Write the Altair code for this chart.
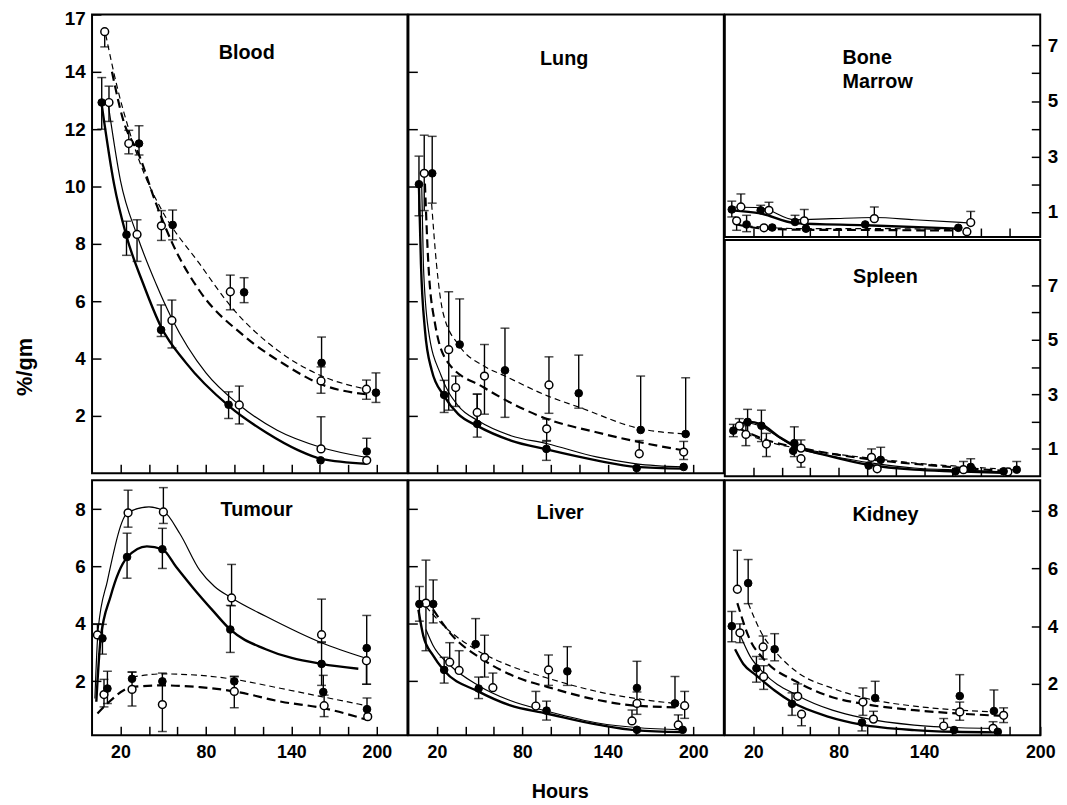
import altair as alt
import pandas as pd

FONT = "Liberation Sans"
XDOM = [0, 221.5]
HOUR_TICKS = [20, 40, 60, 80, 100, 120, 140, 160, 180, 200]

W = 319
H_TOP = 464
H_BM = 225
H_SP = 239
H_BOT = 258

# ---------------- data: (hours, value, err_low, err_high) ----------------
blood_filled = [(6.8, 12.93, 12.0, 13.8), (24.2, 8.32, 7.6, 8.79), (33.0, 11.5, 11.1, 12.12),
                (48.5, 5.0, 4.77, 5.87), (56.6, 8.66, 8.14, 9.18), (95.9, 2.39, 1.91, 2.84),
                (106.8, 6.31, 5.95, 6.82), (161.2, 3.85, 3.85, 4.75), (160.5, 0.45, 0.45, 0.45),
                (192.9, 0.76, 0.76, 1.22), (199.4, 2.81, 2.47, 3.5)]
blood_open = [(8.9, 15.4, 14.87, 15.4), (11.9, 12.93, 12.27, 13.5), (25.8, 11.5, 11.14, 11.96),
              (31.6, 8.33, 7.39, 8.84), (48.7, 8.63, 8.12, 9.16), (56.1, 5.33, 4.37, 6.04),
              (97.1, 6.33, 5.7, 6.91), (103.4, 2.38, 1.72, 3.04), (160.8, 0.85, 0.85, 1.97),
              (160.8, 3.22, 2.79, 3.71), (192.7, 2.93, 2.58, 3.25), (192.9, 0.45, 0.45, 0.45)]
blood_curves = {
    "thick": [(6.8, 12.85), (15.4, 10.1), (24, 8.3), (36, 6.6), (48.5, 5.1), (66, 3.85), (96, 2.35),
              (122, 1.43), (145, 0.8), (161, 0.5), (193, 0.33)],
    "thin": [(11, 13.0), (20, 10.2), (31.6, 8.3), (45, 6.6), (56, 5.4), (80, 3.5), (103, 2.4),
             (130, 1.5), (161, 0.9), (193, 0.55)],
    "thick_dash": [(14, 14.0), (22, 12.3), (33, 11.1), (45, 9.4), (56.6, 8.0), (75, 6.4), (107, 4.78),
                   (135, 3.8), (161, 3.1), (193, 2.75)],
    "thin_dash": [(9.6, 15.3), (18, 13.4), (25.8, 12.0), (37, 10.4), (48.7, 9.2), (75.6, 7.3),
                  (98.7, 5.75), (130, 4.3), (161, 3.4), (193, 2.93)],
}

lung_filled = [(7.4, 10.08, 8.98, 11.06), (16.7, 10.46, 9.42, 11.75), (25.1, 2.73, 2.12, 3.24),
               (36.0, 4.49, 4.49, 6.08), (48.3, 1.72, 1.26, 2.76), (67.8, 3.59, 1.95, 5.06),
               (96.9, 0.85, 0.45, 1.12), (119.6, 2.79, 2.27, 4.12), (163.1, 1.51, 1.51, 3.39),
               (160.3, 0.18, 0.18, 0.18), (194.7, 1.37, 1.37, 3.33), (193.3, 0.22, 0.22, 0.22)]
lung_open = [(11.1, 10.46, 9.16, 11.79), (28.3, 4.31, 2.2, 6.33), (33.2, 2.99, 2.33, 3.39),
             (48.3, 2.12, 1.72, 2.76), (53.4, 3.39, 2.06, 4.49), (98.7, 3.08, 2.09, 4.06),
             (97.1, 1.55, 1.14, 1.89), (162.1, 0.68, 0.68, 1.14), (193.3, 0.74, 0.48, 1.11)]
lung_curves = {
    "thick": [(7.4, 9.97), (8.8, 7.3), (11.6, 5.0), (16.3, 3.6), (25, 2.7), (35, 2.06), (48, 1.66),
              (72, 1.14), (97, 0.83), (132, 0.45), (160, 0.22), (193, 0.16)],
    "thin": [(9.3, 10.1), (10.5, 7.3), (14, 5.0), (23, 3.4), (35, 2.35), (49, 1.83), (72, 1.31),
             (97.6, 1.03), (132, 0.57), (160, 0.33), (193, 0.22)],
    "thick_dash": [(11.6, 10.1), (14, 7.3), (18.6, 5.24), (27.9, 3.85), (53, 2.99), (97.6, 1.89),
                   (132, 1.43), (162.6, 1.08), (193, 0.8)],
    "thin_dash": [(16.3, 9.4), (19.7, 7.3), (24.4, 5.58), (36, 4.43), (53, 3.74), (67.8, 3.39),
                  (97.6, 2.7), (120, 2.3), (163, 1.55), (194.7, 1.37)],
}

bm_filled = [(4.9, 1.09, 0.82, 1.39), (15.3, 0.55, 0.29, 0.88), (25.2, 1.06, 1.06, 1.24),
             (33.3, 0.44, 0.44, 0.44), (49.3, 0.64, 0.64, 0.88), (57, 0.4, 0.4, 0.4),
             (98.6, 0.55, 0.55, 0.55), (164, 0.43, 0.43, 0.43)]
bm_open = [(8.3, 0.68, 0.34, 0.68), (11.3, 1.18, 1.18, 1.65), (27.5, 0.43, 0.43, 0.43),
           (31, 1.06, 1.06, 1.35), (55.8, 0.68, 0.68, 1.09), (105, 0.76, 0.76, 1.18),
           (170, 0.29, 0.29, 0.29), (172.7, 0.62, 0.62, 1.02)]
bm_curves = {
    "thick": [(4.9, 1.06), (25, 0.95), (49, 0.6), (98.6, 0.52), (164, 0.4)],
    "thin": [(4.9, 1.18), (25, 1.15), (49, 0.72), (75, 0.76), (105, 0.8), (133, 0.72), (172.7, 0.6)],
    "thick_dash": [(8.3, 0.55), (27.5, 0.4), (57, 0.36), (98.6, 0.35), (164, 0.33)],
    "thin_dash": [(15.3, 0.5), (33.3, 0.43), (57, 0.4), (105, 0.4), (170, 0.36)],
}

spleen_filled = [(6, 1.67, 1.45, 1.9), (16, 1.99, 1.55, 2.45), (25.7, 1.85, 1.27, 2.42),
                 (48.8, 1.21, 0.72, 1.81), (48, 0.93, 0.93, 0.93), (101, 0.39, 0.39, 0.39),
                 (109.5, 0.6, 0.6, 1.06), (162, 0.18, 0.18, 0.18), (172.7, 0.34, 0.34, 0.64),
                 (195.8, 0.18, 0.18, 0.18), (205, 0.24, 0.24, 0.54)]
spleen_open = [(10.2, 1.84, 1.84, 2.11), (14.8, 1.53, 1.12, 1.85), (29.2, 1.18, 0.72, 1.57),
               (53.5, 1.03, 1.03, 1.33), (53.5, 0.64, 0.33, 0.64), (103, 0.69, 0.69, 1.0),
               (107, 0.27, 0.27, 0.27), (167.6, 0.24, 0.24, 0.54), (198.8, 0.16, 0.16, 0.16)]
spleen_curves = {
    "thick": [(6, 1.67), (16, 2.0), (25.7, 1.9), (38, 1.45), (50, 1.1), (75, 0.72), (101, 0.42),
              (133, 0.24), (162, 0.18), (200, 0.12)],
    "thin": [(6, 1.7), (16, 1.95), (25.7, 1.82), (38, 1.42), (50, 1.05), (75, 0.74), (105, 0.47),
             (133, 0.3), (168, 0.22), (200, 0.15)],
    "thick_dash": [(10, 1.75), (29, 1.33), (53.5, 1.03), (80, 0.78), (105, 0.6), (140, 0.42),
                   (168, 0.3), (200, 0.18)],
    "thin_dash": [(14.8, 1.55), (29.2, 1.28), (53.5, 1.0), (80, 0.8), (109.5, 0.62), (140, 0.45),
                  (172.7, 0.34), (205, 0.22)],
}

tumour_filled = [(7.3, 3.49, 2.94, 3.98), (10.8, 1.74, 1.22, 2.34), (24.6, 6.33, 5.59, 7.16),
                 (28.1, 2.08, 2.08, 2.31), (49.4, 6.6, 5.93, 7.33), (49.4, 1.99, 1.99, 1.99),
                 (97.1, 3.8, 3.0, 4.64), (99.9, 1.99, 1.99, 2.15), (161.2, 2.6, 1.85, 3.37),
                 (162.4, 1.62, 1.62, 2.2), (192.9, 3.15, 1.89, 4.29), (193.1, 1.02, 1.02, 1.41)]
tumour_open = [(3.8, 3.61, 3.61, 3.98), (8.4, 1.53, 1.1, 2.06), (25.3, 7.87, 7.37, 8.66),
               (28.1, 1.71, 1.13, 2.32), (50.1, 7.9, 7.5, 8.75), (49.4, 1.18, 0.24, 2.28),
               (98.0, 4.9, 4.63, 6.07), (99.9, 1.64, 1.07, 2.17), (161.2, 3.62, 3.34, 4.86),
               (163.0, 1.14, 0.76, 1.51), (192.7, 2.71, 1.89, 2.71), (193.6, 0.76, 0.76, 0.76)]
tumour_curves = {
    "thick": [(3, 1.28), (6, 3.46), (13, 4.95), (24.6, 6.31), (38.5, 6.7), (49.4, 6.6), (59, 5.99),
              (71, 5.25), (85, 4.45), (97, 3.8), (122, 3.11), (161, 2.6), (187, 2.43)],
    "thin": [(2, 1.39), (4.3, 3.8), (10.8, 5.5), (25, 7.87), (40, 8.08), (50, 7.94), (61.7, 7.14),
             (75.6, 5.87), (86, 5.3), (98, 4.9), (122, 4.26), (161, 3.34), (193, 2.79)],
    "thick_dash": [(3.8, 0.87), (10.8, 1.22), (28, 1.79), (49, 1.85), (75.6, 1.79), (100, 1.64),
                   (133, 1.28), (163, 1.05), (193.6, 0.64)],
    "thin_dash": [(28, 2.14), (49, 2.25), (75.6, 2.2), (100, 2.06), (133, 1.74), (162, 1.45),
                  (193, 1.14)],
}

liver_filled = [(7.7, 4.69, 4.09, 5.3), (17.4, 4.69, 4.03, 5.53), (25.1, 2.39, 1.93, 2.83),
                (47.2, 3.29, 3.29, 4.18), (49.3, 1.74, 1.39, 2.14), (97, 0.97, 0.64, 1.3),
                (111.6, 2.34, 1.85, 3.2), (160.5, 1.76, 1.76, 2.69), (160.5, 0.3, 0.3, 0.3),
                (187.2, 1.22, 1.22, 2.16), (192.6, 0.3, 0.3, 0.3)]
liver_open = [(12.3, 4.72, 3.06, 6.22), (29, 2.66, 2.66, 3.34), (35.6, 2.37, 2.37, 3.06),
              (53.5, 2.83, 2.14, 3.6), (59.3, 1.77, 1.77, 2.28), (89.5, 1.13, 1.13, 1.64),
              (98.4, 2.39, 1.85, 2.91), (157, 0.61, 0.61, 0.99), (160.5, 1.22, 0.84, 1.62),
              (189.5, 0.47, 0.47, 0.82), (194, 1.14, 0.7, 1.64)]
liver_curves = {
    "thick": [(7, 4.49), (10.5, 3.57), (17.4, 2.89), (25, 2.37), (49, 1.64), (71, 1.16), (97, 0.87),
              (134, 0.47), (160, 0.28), (192.6, 0.22)],
    "thin": [(12.3, 3.8), (17.4, 3.23), (29, 2.56), (49, 1.85), (71, 1.33), (99, 0.93), (134, 0.53),
             (160, 0.38), (192.6, 0.3)],
    "thick_dash": [(17.4, 4.49), (29, 3.69), (53.5, 2.71), (75.6, 2.14), (98, 1.79), (134, 1.33),
                   (160, 1.14), (194, 1.08)],
    "thin_dash": [(12.3, 4.6), (25, 3.92), (47, 3.11), (71, 2.54), (98, 2.1), (134, 1.62), (160, 1.39),
                  (187, 1.22)],
}

kidney_filled = [(4.9, 4.0, 3.46, 4.51), (16.4, 5.49, 4.78, 6.31), (22.2, 2.54, 2.06, 2.95),
                 (35, 3.2, 2.8, 3.74), (47.2, 1.31, 0.91, 1.69), (96.3, 0.66, 0.37, 0.66),
                 (105.6, 1.51, 1.51, 2.09), (161, 0.4, 0.4, 0.4), (165, 1.58, 1.58, 2.32),
                 (189, 1.06, 1.06, 1.79), (191.7, 0.34, 0.34, 0.34)]
kidney_open = [(8.8, 5.28, 5.28, 6.63), (10.6, 3.77, 3.43, 4.08), (26.9, 3.28, 2.86, 3.66),
               (27.3, 2.25, 1.81, 2.63), (51.2, 1.57, 1.57, 2.0), (53.9, 0.95, 0.55, 0.95),
               (97, 1.37, 0.91, 1.86), (104.4, 0.78, 0.78, 1.05), (153.7, 0.54, 0.54, 0.8),
               (165, 1.03, 0.74, 1.37), (188.4, 0.46, 0.46, 0.69), (195.8, 0.91, 0.66, 1.17)]
kidney_curves = {
    "thick": [(7.2, 3.2), (13, 2.69), (22.2, 2.29), (35, 1.77), (47, 1.37), (73, 0.86), (96, 0.59),
              (133, 0.4), (161, 0.34), (191.7, 0.32)],
    "thin": [(10.6, 3.71), (17.6, 2.97), (27.3, 2.38), (51, 1.6), (75.5, 1.09), (97, 0.82),
             (133, 0.57), (165, 0.48), (188, 0.46)],
    "thick_dash": [(8.8, 4.8), (17.6, 3.54), (27.3, 2.86), (51, 2.06), (75.5, 1.54), (97, 1.31),
                   (133, 1.09), (165, 0.97), (195.8, 0.89)],
    "thin_dash": [(16.4, 4.8), (26.9, 3.66), (35, 3.14), (51, 2.4), (75.5, 1.85), (105.6, 1.43),
                  (133, 1.23), (165, 1.09), (189, 1.03)],
}

STYLES = {
    "thick": dict(strokeWidth=2.4),
    "thin": dict(strokeWidth=1.2),
    "thick_dash": dict(strokeWidth=2.2, strokeDash=[9, 5]),
    "thin_dash": dict(strokeWidth=1.2, strokeDash=[6, 4]),
}


def points_df(filled, opened):
    rows = []
    for kind, lst in (("filled", filled), ("open", opened)):
        for h, v, lo, hi in lst:
            rows.append({"h": h, "v": v, "lo": lo, "hi": hi, "kind": kind})
    return pd.DataFrame(rows)


def x_axis(labels=False, kidney=False, **kw):
    if kidney:
        values = HOUR_TICKS + [XDOM[1]]
        expr = ("datum.value > 210 ? '200' : ((datum.value == 20 || datum.value == 80 || "
                "datum.value == 140) ? datum.label : '')")
    else:
        values = HOUR_TICKS
        expr = ("(datum.value == 20 || datum.value == 80 || datum.value == 140 || "
                "datum.value == 200) ? datum.label : ''")
    return alt.Axis(orient="bottom", values=values, labelExpr=expr, labels=labels, tickSize=9,
                    offset=-9, domain=False, grid=False, labelPadding=9, labelFlush=False,
                    labelFontSize=18, **kw)


def y_axis(orient, values, labels=False, expr="datum.label", **kw):
    opts = dict(orient=orient, values=values, labelExpr=expr, labels=labels, tickSize=9,
                offset=-9, domain=False, grid=False, labelPadding=7, labelFontSize=19)
    opts.update(kw)
    return alt.Axis(**opts)


def panel(title, filled, opened, curves, ydom, height, xaxis, yaxis):
    xs = alt.Scale(domain=XDOM, nice=False, zero=False)
    ys = alt.Scale(domain=ydom, nice=False, zero=False)
    x = alt.X("h:Q", scale=xs, axis=xaxis)

    def yenc(field):
        return alt.Y(field + ":Q", scale=ys, axis=yaxis)

    layers = []
    for style, pts in curves.items():
        cdf = pd.DataFrame([{"h": h, "v": v} for h, v in pts])
        layers.append(alt.Chart(cdf).mark_line(color="black", interpolate="monotone", clip=True,
                                               **STYLES[style]).encode(x=x, y=yenc("v")))
    base = alt.Chart(points_df(filled, opened))
    layers.append(base.mark_rule(color="black", strokeWidth=1.4).encode(x=x, y=yenc("lo"), y2="hi:Q"))
    layers.append(base.transform_filter("datum.hi > datum.v").mark_tick(
        orient="horizontal", color="black", size=9, thickness=1.5).encode(x=x, y=yenc("hi")))
    layers.append(base.transform_filter("datum.lo < datum.v").mark_tick(
        orient="horizontal", color="black", size=9, thickness=1.5).encode(x=x, y=yenc("lo")))
    layers.append(base.transform_filter("datum.kind == 'open'").mark_point(
        shape="circle", filled=True, fill="white", stroke="black", strokeWidth=1.5, size=62,
        opacity=1).encode(x=x, y=yenc("v")))
    layers.append(base.transform_filter("datum.kind == 'filled'").mark_point(
        shape="circle", filled=True, fill="black", stroke="black", strokeWidth=1, size=60,
        opacity=1).encode(x=x, y=yenc("v")))
    return alt.layer(*layers).properties(width=W, height=height, title=title)


def ptitle(text, offset, dx=0, anchor="middle", **kw):
    return alt.TitleParams(text=text, anchor=anchor, baseline="middle", offset=offset, dx=dx,
                           font=FONT, fontSize=20, fontWeight="bold", color="black", **kw)


blood = panel(ptitle("Blood", -64, -3), blood_filled, blood_open, blood_curves, [0, 16], H_TOP,
              x_axis(title=None),
              y_axis("left", [2, 4, 6, 8, 10, 12, 14, 16], labels=True,
                     expr="datum.value == 16 ? '17' : datum.label", title="%/gm",
                     titleX=-65, titleY=356, titleFontSize=22, labelFlush=True,
                     labelFlushOffset=5))
lung = panel(ptitle("Lung", -65, -2), lung_filled, lung_open, lung_curves, [0, 16], H_TOP,
             x_axis(title=None), y_axis("left", [2, 4, 6, 8, 10, 12, 14], title=None))
bm = panel(ptitle(["Bone", "Marrow"], -88, 119, anchor="start", lineHeight=24),
           bm_filled, bm_open, bm_curves, [0.1, 8.12], H_BM,
           x_axis(title=None),
           y_axis("right", [1, 2, 3, 4, 5, 6, 7], labels=True,
                  expr="datum.value % 2 == 1 ? datum.label : ''", title=None))
spleen = panel(ptitle("Spleen", -58, 3), spleen_filled, spleen_open, spleen_curves, [0, 8.66], H_SP,
               x_axis(title=None),
               y_axis("right", [1, 2, 3, 4, 5, 6, 7], labels=True,
                      expr="datum.value % 2 == 1 ? datum.label : ''", title=None))
tumour = panel(ptitle("Tumour", -50, 7), tumour_filled, tumour_open, tumour_curves, [0.11, 9.01], H_BOT,
               x_axis(labels=True, title=None),
               y_axis("left", [2, 4, 6, 8], labels=True, title=None))
liver = panel(ptitle("Liver", -53, -6), liver_filled, liver_open, liver_curves, [0.11, 9.01], H_BOT,
              x_axis(labels=True, title="Hours", titleX=153, titleY=56, titleFontSize=20,
                     titleBaseline="top"),
              y_axis("left", [2, 4, 6, 8], title=None))
kidney = panel(ptitle("Kidney", -55, 3), kidney_filled, kidney_open, kidney_curves, [0.22, 9.06], H_BOT,
               x_axis(labels=True, kidney=True, title=None),
               y_axis("right", [2, 4, 6, 8], labels=True, title=None))

right_col = alt.vconcat(bm, spleen, spacing=-3)
row1 = alt.hconcat(blood, lung, right_col, spacing=-2)
row2 = alt.hconcat(tumour, liver, kidney, spacing=-2)

chart = (
    alt.vconcat(row1, row2, spacing=-3)
    .configure_view(stroke="black", strokeWidth=2)
    .configure_axis(labelFont=FONT, labelFontWeight="bold", labelColor="black",
                    tickColor="black", tickWidth=1.5, titleFont=FONT, titleFontWeight="bold",
                    titleColor="black")
    .properties(padding={"left": 5, "top": -4, "right": 0, "bottom": 0}, background="white")
)

chart.save("out.html", embed_options={"renderer": "svg", "actions": False})
